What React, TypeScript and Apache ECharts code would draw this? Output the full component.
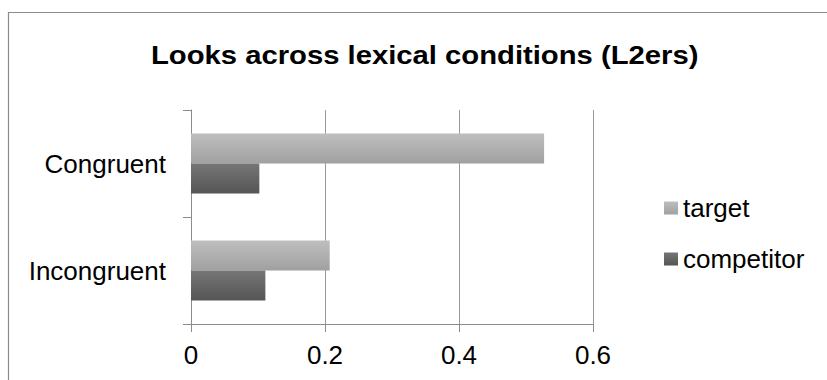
import React, { useEffect, useRef } from "react";
import * as echarts from "echarts";

// Proportion of looks per lexical condition
const conditions = ["Congruent", "Incongruent"];
const seriesNames = ["target", "competitor"];
const targetLooks = [0.527, 0.207];
const competitorLooks = [0.102, 0.111];
const xTicks = { min: 0, max: 0.6, interval: 0.2 };

const titleText = "Looks across lexical conditions (L2ers)";
const FONT = "Arial, 'Liberation Sans', Helvetica, sans-serif";

export default function App() {
  const ref = useRef<HTMLDivElement>(null);

  useEffect(() => {
    if (!ref.current) return;
    const chart = echarts.init(ref.current, undefined, { renderer: "svg" });

    const lightGrad = new echarts.graphic.LinearGradient(0, 0, 0, 1, [
      { offset: 0, color: "#bebebe" },
      { offset: 1, color: "#a0a0a0" },
    ]);
    const darkGrad = new echarts.graphic.LinearGradient(0, 0, 0, 1, [
      { offset: 0, color: "#767676" },
      { offset: 1, color: "#555555" },
    ]);

    chart.setOption({
      animation: false,
      backgroundColor: "#ffffff",
      textStyle: { fontFamily: FONT },
      graphic: [
        {
          type: "rect",
          shape: { x: 8.5, y: 12.5, width: 900, height: 500 },
          style: { fill: "none", stroke: "#8c8c8c", lineWidth: 1.2 },
          silent: true,
        },
        {
          type: "text",
          x: 151,
          y: 55.5,
          scaleX: 1.17,
          scaleY: 1,
          style: {
            text: titleText,
            font: `bold 25px ${FONT}`,
            fill: "#000000",
            align: "left",
            verticalAlign: "middle",
          },
          silent: true,
        },
      ],
      legend: {
        orient: "vertical",
        left: 659,
        top: 190,
        itemWidth: 14,
        itemHeight: 13,
        itemGap: 25,
        icon: "rect",
        data: seriesNames,
        textStyle: { fontSize: 26, color: "#000000", fontFamily: FONT, padding: [0, 0, 0, 0] },
      },
      grid: { left: 191, right: 234, top: 110, bottom: 56, containLabel: false },
      xAxis: {
        type: "value",
        min: xTicks.min,
        max: xTicks.max,
        interval: xTicks.interval,
        axisLine: { show: true, lineStyle: { color: "#8c8c8c", width: 1 } },
        axisTick: { show: true, length: 8, lineStyle: { color: "#8c8c8c" } },
        splitLine: { show: true, lineStyle: { color: "#999999", width: 1 } },
        axisLabel: { fontSize: 26, color: "#000000", margin: 18, fontFamily: FONT },
      },
      yAxis: {
        type: "category",
        inverse: true,
        data: conditions,
        axisLine: { show: true, lineStyle: { color: "#8c8c8c", width: 1 } },
        axisTick: { show: true, length: 8, lineStyle: { color: "#8c8c8c" } },
        axisLabel: { fontSize: 26, color: "#000000", margin: 25, fontFamily: FONT },
      },
      series: [
        {
          name: seriesNames[0],
          type: "bar",
          data: targetLooks,
          barGap: "0%",
          barCategoryGap: "44%",
          itemStyle: { color: lightGrad },
        },
        {
          name: seriesNames[1],
          type: "bar",
          data: competitorLooks,
          barGap: "0%",
          barCategoryGap: "44%",
          itemStyle: { color: darkGrad },
        },
      ],
    });

    return () => chart.dispose();
  }, []);

  return (
    <div
      ref={ref}
      style={{ position: "fixed", left: 0, top: 0, width: 827, height: 380 }}
    />
  );
}
